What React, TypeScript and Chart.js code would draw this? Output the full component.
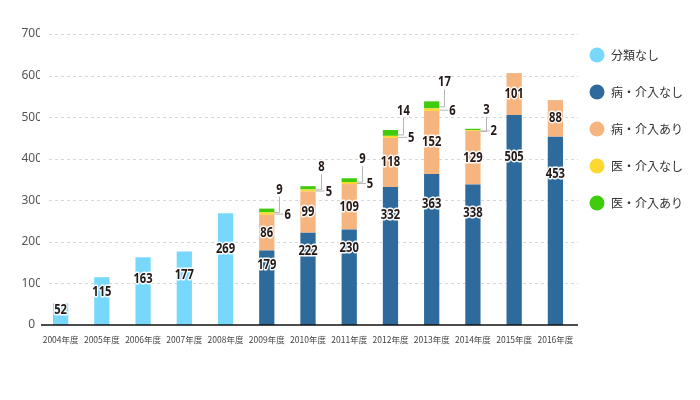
import React, { useEffect, useRef } from "react";
import { Chart, registerables } from "chart.js";

Chart.register(...registerables);

const categories = [
  "2004年度", "2005年度", "2006年度", "2007年度", "2008年度", "2009年度", "2010年度",
  "2011年度", "2012年度", "2013年度", "2014年度", "2015年度", "2016年度",
];
const seriesNames = ["分類なし", "病・介入なし", "病・介入あり", "医・介入なし", "医・介入あり"];
const unclassified = [52, 115, 163, 177, 269, null, null, null, null, null, null, null, null];
const illNoIntervention = [null, null, null, null, null, 179, 222, 230, 332, 363, 338, 505, 453];
const illIntervention = [null, null, null, null, null, 86, 99, 109, 118, 152, 129, 101, 88];
const medNoIntervention = [null, null, null, null, null, 6, 5, 5, 5, 6, 2, null, null];
const medIntervention = [null, null, null, null, null, 9, 8, 9, 14, 17, 3, null, null];
const yTicks = [0, 100, 200, 300, 400, 500, 600, 700];

const colors = ["#78D8FC", "#2E6A9B", "#F6B47F", "#FCD830", "#40CC0C"];
const LABEL_FONT = 'bold 14px "Noto Sans", "DejaVu Sans", sans-serif';

const decorPlugin = {
  id: "decor",
  beforeDatasetsDraw(chart: any) {
    const { ctx, chartArea, scales } = chart;
    const y = scales.y;
    ctx.save();
    ctx.strokeStyle = "#d8d8d8";
    ctx.lineWidth = 1;
    ctx.setLineDash([3, 3]);
    yTicks.forEach((v) => {
      if (v === 0) return;
      const py = Math.round(y.getPixelForValue(v)) + 0.5;
      ctx.beginPath();
      ctx.moveTo(chartArea.left + 9, py);
      ctx.lineTo(chartArea.right + 2, py);
      ctx.stroke();
    });
    ctx.restore();
  },
  afterDatasetsDraw(chart: any) {
    const { ctx, chartArea, scales } = chart;
    const y = scales.y;
    ctx.save();
    const y0 = y.getPixelForValue(0);
    ctx.strokeStyle = "#111";
    ctx.lineWidth = 1.5;
    ctx.beginPath();
    ctx.moveTo(chartArea.left + 1, y0);
    ctx.lineTo(chartArea.right + 2, y0);
    ctx.stroke();

    const drawLabel = (text: string, x: number, yy: number, align: CanvasTextAlign, halo: boolean) => {
      ctx.save();
      ctx.translate(x, yy);
      ctx.scale(0.8, 1);
      ctx.font = LABEL_FONT;
      ctx.textAlign = align;
      ctx.textBaseline = "middle";
      if (halo) {
        ctx.lineJoin = "round";
        ctx.lineWidth = 3;
        ctx.strokeStyle = "rgba(255,255,255,0.95)";
        ctx.strokeText(text, 0, 0);
      }
      ctx.fillStyle = "#231815";
      ctx.fillText(text, 0, 0);
      ctx.restore();
    };

    const fractions = [0.68, 0.8, 0.5];
    chart.data.datasets.forEach((ds: any, di: number) => {
      const meta = chart.getDatasetMeta(di);
      meta.data.forEach((el: any, i: number) => {
        const v = ds.data[i];
        if (v == null) return;
        const top = el.y;
        const base = el.base;
        const right = el.x + el.width / 2;
        if (di <= 2) {
          const yy = base - (base - top) * fractions[di];
          drawLabel(String(v), el.x, yy, "center", true);
        } else if (di === 3) {
          const mid = (top + base) / 2;
          ctx.strokeStyle = "#b5b5b5";
          ctx.lineWidth = 1;
          ctx.beginPath();
          ctx.moveTo(right, mid + 0.5);
          ctx.lineTo(right + 9, mid + 0.5);
          ctx.stroke();
          drawLabel(String(v), right + 10, mid + 1, "left", false);
        } else {
          const mid = (top + base) / 2;
          const lx = Math.round(right + 5) + 0.5;
          ctx.strokeStyle = "#b5b5b5";
          ctx.lineWidth = 1;
          ctx.beginPath();
          ctx.moveTo(right, mid + 2);
          ctx.lineTo(lx, mid + 2);
          ctx.lineTo(lx, top - 12);
          ctx.stroke();
          drawLabel(String(v), lx, top - 19, "center", false);
        }
      });
    });

    ctx.textAlign = "left";
    ctx.textBaseline = "middle";
    ctx.font = '12px "Noto Sans CJK JP", "Noto Sans", sans-serif';
    seriesNames.forEach((name, i) => {
      const cy = 55 + i * 37;
      ctx.fillStyle = colors[i];
      ctx.beginPath();
      ctx.arc(597, cy, 7.5, 0, Math.PI * 2);
      ctx.fill();
      ctx.fillStyle = "#333";
      ctx.fillText(name, 611, cy);
    });
    ctx.restore();
  },
};

export default function App() {
  const ref = useRef<HTMLCanvasElement | null>(null);
  useEffect(() => {
    if (!ref.current) return;
    const series = [unclassified, illNoIntervention, illIntervention, medNoIntervention, medIntervention];
    const chart = new Chart(ref.current, {
      type: "bar",
      data: {
        labels: categories,
        datasets: series.map((d, i) => ({
          label: seriesNames[i],
          data: d,
          backgroundColor: colors[i],
          borderWidth: 0,
          barPercentage: 0.37,
          categoryPercentage: 1,
          stack: "s",
        })),
      },
      options: {
        animation: false,
        responsive: true,
        maintainAspectRatio: false,
        layout: { padding: { top: 34, right: 124, left: 0, bottom: 0 } },
        plugins: { legend: { display: false }, tooltip: { enabled: false } },
        scales: {
          x: {
            stacked: true,
            grid: { display: false, drawTicks: false },
            border: { display: false },
            ticks: {
              color: "#444",
              font: { size: 8.5, family: '"Noto Sans CJK JP", "Noto Sans", sans-serif' },
              padding: 10,
              maxRotation: 0,
              autoSkip: false,
            },
            afterFit: (s: any) => { s.height = 75; },
          },
          y: {
            stacked: true,
            min: 0,
            max: 700,
            grid: { display: false, drawTicks: false },
            border: { display: false },
            ticks: {
              stepSize: 100,
              color: "#555",
              padding: -2,
              crossAlign: "center",
              font: { size: 12, family: '"Noto Sans", sans-serif' },
            },
            afterFit: (s: any) => { s.width = 40; },
          },
        },
      },
      plugins: [decorPlugin],
    });
    return () => chart.destroy();
  }, []);
  return (
    <div style={{ position: "fixed", left: 0, top: 0, width: 700, height: 400, background: "#fff" }}>
      <canvas ref={ref} />
    </div>
  );
}
